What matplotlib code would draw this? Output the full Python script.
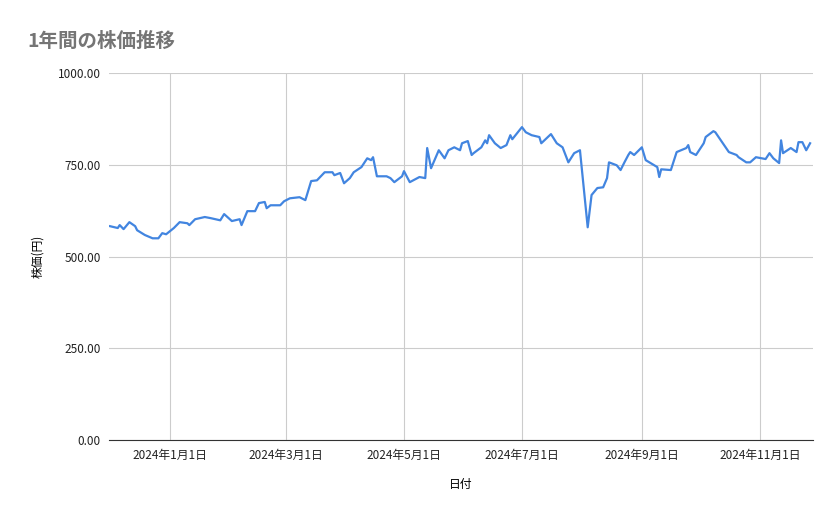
import matplotlib
matplotlib.use("Agg")
import matplotlib.pyplot as plt
import matplotlib.dates as mdates
import pandas as pd
from matplotlib.ticker import FuncFormatter

plt.rcParams['font.family'] = ['Noto Sans CJK JP', 'DejaVu Sans']

dates = [
 "2023-12-01","2023-12-05","2023-12-06","2023-12-08","2023-12-11","2023-12-14","2023-12-15","2023-12-19","2023-12-23","2023-12-26",
 "2023-12-28","2023-12-30","2024-01-03","2024-01-06","2024-01-10","2024-01-11","2024-01-14","2024-01-19","2024-01-22","2024-01-27",
 "2024-01-29","2024-02-02","2024-02-06","2024-02-07","2024-02-10","2024-02-14","2024-02-16","2024-02-19","2024-02-20","2024-02-22",
 "2024-02-27","2024-02-29","2024-03-03","2024-03-08","2024-03-11","2024-03-14","2024-03-17","2024-03-21","2024-03-25","2024-03-26",
 "2024-03-29","2024-03-31","2024-04-03","2024-04-05","2024-04-09","2024-04-12","2024-04-14","2024-04-15","2024-04-17","2024-04-22",
 "2024-04-24","2024-04-26","2024-04-30","2024-05-01","2024-05-04","2024-05-09","2024-05-12","2024-05-13","2024-05-15","2024-05-19",
 "2024-05-22","2024-05-24","2024-05-27","2024-05-30","2024-05-31","2024-06-03","2024-06-05","2024-06-06","2024-06-10","2024-06-12",
 "2024-06-13","2024-06-14","2024-06-17","2024-06-20","2024-06-23","2024-06-25","2024-06-26","2024-07-01","2024-07-03","2024-07-06",
 "2024-07-10","2024-07-11","2024-07-16","2024-07-19","2024-07-22","2024-07-25","2024-07-28","2024-07-31","2024-08-04","2024-08-06",
 "2024-08-09","2024-08-12","2024-08-14","2024-08-15","2024-08-19","2024-08-21","2024-08-23","2024-08-25","2024-08-26","2024-08-28",
 "2024-09-01","2024-09-03","2024-09-09","2024-09-10","2024-09-11","2024-09-16","2024-09-19","2024-09-24","2024-09-25","2024-09-26",
 "2024-09-29","2024-10-03","2024-10-04","2024-10-08","2024-10-09","2024-10-16","2024-10-20","2024-10-21","2024-10-25","2024-10-27",
 "2024-10-30","2024-11-04","2024-11-06","2024-11-08","2024-11-11","2024-11-12","2024-11-13","2024-11-17","2024-11-20","2024-11-21",
 "2024-11-23","2024-11-25","2024-11-27",
]
prices = [
 583,578,586,575,594,583,572,559,550,550,
 564,561,578,594,591,586,602,608,605,599,
 616,597,602,586,624,624,646,649,632,640,
 640,651,659,662,654,706,708,730,730,722,
 728,700,714,730,744,768,763,771,719,719,
 714,703,719,733,703,717,714,796,741,790,
 768,790,798,790,809,815,777,782,798,817,
 809,831,809,796,804,831,820,853,839,831,
 826,809,834,809,798,757,782,790,580,668,
 687,689,714,757,749,736,757,777,785,777,
 798,763,744,717,738,736,785,796,804,785,
 777,809,826,842,839,785,777,771,757,757,
 771,766,782,768,755,817,782,796,785,812,
 812,790,809,
]
x_ticks = ["2024-01-01","2024-03-01","2024-05-01","2024-07-01","2024-09-01","2024-11-01"]
y_ticks = [0, 250, 500, 750, 1000]

d = pd.to_datetime(dates)
fig = plt.figure(figsize=(8.39, 5.19), dpi=100)
ax = fig.add_axes([0.130, 0.152, 0.839, 0.707])
ax.plot(d, prices, color="#4285e0", lw=1.6)
ax.set_ylim(0, 1000)
ax.set_xlim(pd.Timestamp("2023-11-30 12:00"), pd.Timestamp("2024-11-28 12:00"))
ax.set_yticks(y_ticks)
ax.yaxis.set_major_formatter(FuncFormatter(lambda v, p: f"{v:.2f}"))
xt = pd.to_datetime(x_ticks)
ax.set_xticks(xt)
ax.set_xticklabels([f"{t.year}年{t.month}月{t.day}日" for t in xt])
ax.grid(True, color="#cccccc", lw=0.8)
ax.set_axisbelow(True)
for s in ["top", "right", "left"]:
    ax.spines[s].set_visible(False)
ax.spines["bottom"].set_color("#333333")
ax.tick_params(length=0, labelsize=8.5, colors="#222222", pad=6)
ax.set_xlabel("日付", fontsize=8.5, labelpad=12)
ax.set_ylabel("株価(円)", fontsize=8.5, labelpad=10)
fig.text(0.033, 0.91, "1年間の株価推移", fontsize=14, color="#757575", fontweight="bold")
fig.savefig("out.png", dpi=100)
